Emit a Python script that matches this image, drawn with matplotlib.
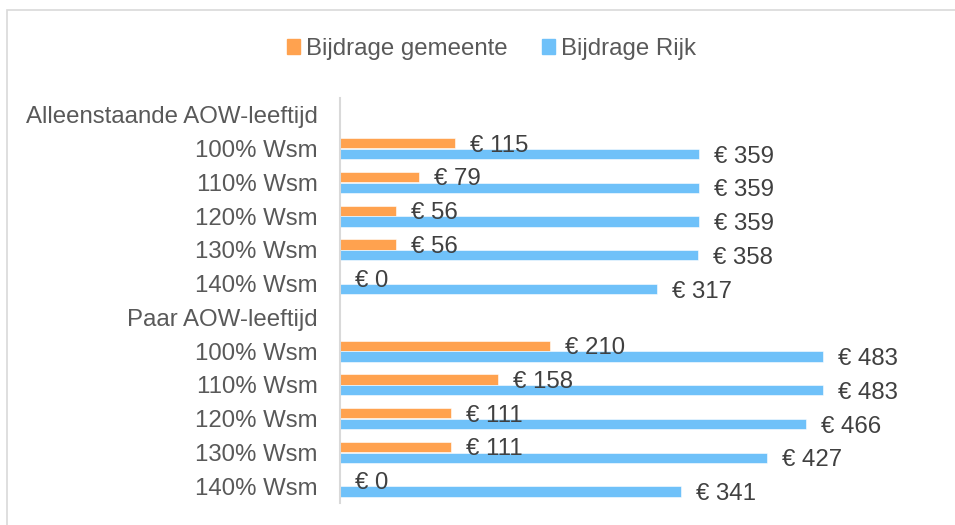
import matplotlib

matplotlib.use("Agg")
import matplotlib.pyplot as plt
from matplotlib.patches import Patch, Rectangle

# ── data ──────────────────────────────────────────────────────────────────
GROUPS = ["Alleenstaande AOW-leeftijd", "Paar AOW-leeftijd"]
LEVELS = ["100% Wsm", "110% Wsm", "120% Wsm", "130% Wsm", "140% Wsm"]
GEMEENTE = [[115, 79, 56, 56, 0], [210, 158, 111, 111, 0]]
RIJK = [[359, 359, 359, 358, 317], [483, 483, 466, 427, 341]]

ORANGE = "#FFA24F"
BLUE = "#6FC1F9"
TEXT = "#595959"
GRID = "#D9D9D9"
FS = 17.3

plt.rcParams["font.family"] = ["Liberation Sans", "DejaVu Sans"]
plt.rcParams["font.size"] = FS

W, H, DPI = 955, 525, 100
fig = plt.figure(figsize=(W / DPI, H / DPI), dpi=DPI)

# outer chart frame (cropped on the right/bottom in the reference)
fig.patches.append(Rectangle((7, -20), W + 40, H - 10 + 20, transform=None,
                             fill=False, edgecolor=GRID, linewidth=1.2))

ax = fig.add_axes([340 / W, 1 - 503 / H, 600 / W, 405 / H])

labels, gem, rijk = [], [], []
for g, gv, rv in zip(GROUPS, GEMEENTE, RIJK):
    labels.append(g)
    gem.append(None)
    rijk.append(None)
    labels += LEVELS
    gem += gv
    rijk += rv

off, h = 0.16, 0.30
for i, (gv, rv) in enumerate(zip(gem, rijk)):
    if gv is None:
        continue
    ax.barh(i - off, gv, height=h, color=ORANGE, edgecolor="white", linewidth=0.4)
    ax.barh(i + off, rv, height=h, color=BLUE, edgecolor="white", linewidth=0.4)
    for y, v in ((i - off, gv), (i + off, rv)):
        ax.annotate(f"€ {v}", xy=(v, y), xytext=(11, 0), textcoords="offset points",
                    ha="left", va="center_baseline", color="#404040", fontsize=FS)

ax.set_xlim(0, 600)
ax.set_ylim(len(labels) - 0.5, -0.5)
ax.set_yticks(range(len(labels)))
ax.set_yticklabels(labels, color=TEXT)
ax.tick_params(axis="y", length=0, pad=16)
ax.set_xticks([])
for side in ("top", "right", "bottom"):
    ax.spines[side].set_visible(False)
ax.spines["left"].set_color(GRID)
ax.spines["left"].set_linewidth(1.5)

handles = [Patch(color=ORANGE, label="Bijdrage gemeente"),
           Patch(color=BLUE, label="Bijdrage Rijk")]
leg = fig.legend(handles=handles, loc="center", bbox_to_anchor=(491.5 / W, 1 - 49 / H),
                 ncol=2, frameon=False, handlelength=0.54, handleheight=0.54,
                 handletextpad=0.25, columnspacing=1.4, fontsize=FS)
for t in leg.get_texts():
    t.set_color(TEXT)

fig.savefig("out.png", dpi=DPI)
